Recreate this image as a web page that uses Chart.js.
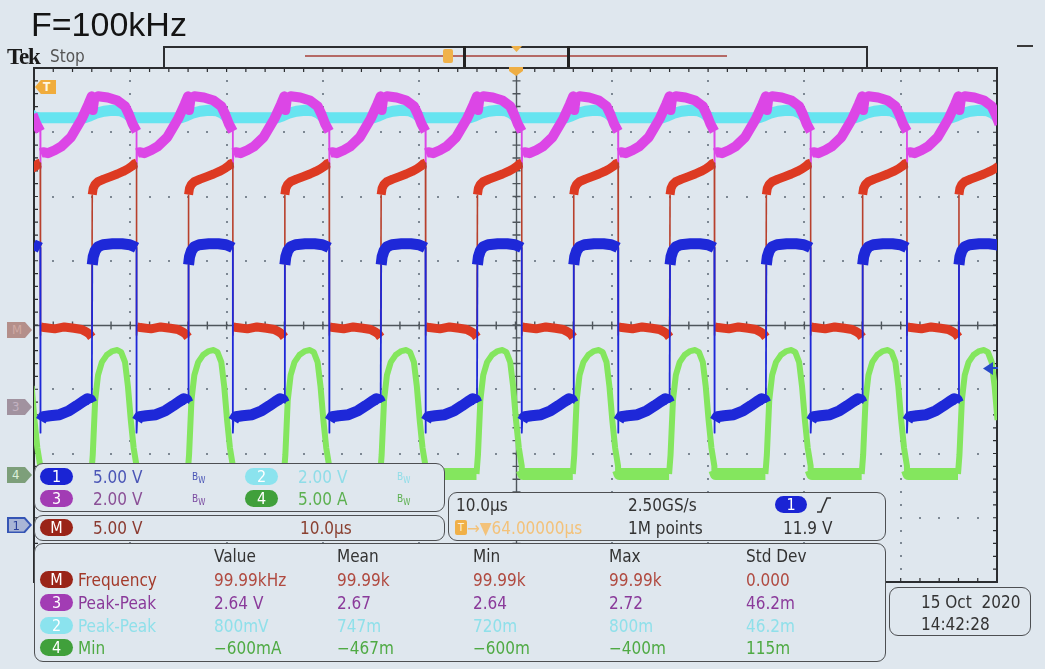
<!DOCTYPE html>
<html><head><meta charset="utf-8">
<script src="https://cdn.jsdelivr.net/npm/chart.js@4.4.1/dist/chart.umd.min.js"></script>
<style>
html,body{margin:0;padding:0;background:#dfe7ee;}
#wrap{position:relative;width:1045px;height:669px;overflow:hidden;background:#dfe7ee;font-family:"DejaVu Sans Condensed","DejaVu Sans",sans-serif;font-stretch:condensed;color:#333;}
#c{position:absolute;left:0;top:0;}
.a{position:absolute;white-space:nowrap;}
.t{position:absolute;white-space:nowrap;font-size:17px;line-height:20px;height:20px;}
.box{position:absolute;border:1.6px solid #4d4f52;border-radius:9px;background:#dfe7ee;box-sizing:border-box;}
.pill{position:absolute;width:33px;height:17px;border-radius:9px;color:#fff;font-size:16px;line-height:17px;text-align:center;}
.bw{position:absolute;font-size:10px;line-height:10px;}
.bw sub{font-size:8px;vertical-align:-3px;}
.mk{position:absolute;width:25px;height:16px;clip-path:polygon(0 0,72% 0,100% 50%,72% 100%,0 100%);font-size:13px;line-height:16px;text-indent:5px;}
</style></head>
<body>
<div id="wrap">
<canvas id="c" width="1045" height="669"></canvas>

<div class="a" style="left:31px;top:0px;font-family:'Liberation Sans',sans-serif;font-size:34px;line-height:48px;color:#141414;font-stretch:normal;">F=100kHz</div>
<div class="a" style="left:7px;top:45px;font-family:'Liberation Serif',serif;font-weight:bold;font-size:23px;line-height:24px;color:#1a1a1a;font-stretch:normal;letter-spacing:-1.2px;">Tek</div>
<div class="a" style="left:50px;top:46px;font-size:17px;line-height:20px;color:#555;">Stop</div>

<!-- record view bar -->
<div class="a" style="left:163px;top:46px;width:705px;height:21px;border:2px solid #2c2e31;border-bottom:none;box-sizing:border-box;"></div>
<div class="a" style="left:305px;top:55px;width:422px;height:2px;background:#b56a66;"></div>
<div class="a" style="left:463px;top:46px;width:107px;height:21px;border-left:3px solid #222;border-right:3px solid #222;box-sizing:border-box;"></div>
<div class="a" style="left:443px;top:49px;width:10px;height:14px;background:#f0b24a;border-radius:2px;"></div>
<div class="a" style="left:511px;top:46px;width:11px;height:6px;background:#eeb048;clip-path:polygon(0 0,100% 0,50% 100%);"></div>
<div class="a" style="left:509px;top:67px;width:14px;height:9px;background:#eeae44;clip-path:polygon(0 0,100% 0,100% 45%,50% 100%,0 45%);"></div>
<div class="a" style="left:1017px;top:45px;width:16px;height:2px;background:#3a3a3a;"></div>

<!-- T marker in plot -->
<div class="a" style="left:35px;top:80px;width:21px;height:14px;background:#f0ac3c;clip-path:polygon(0 50%,28% 0,100% 0,100% 100%,28% 100%);color:#fff6e0;font-size:12px;line-height:14px;text-indent:8px;font-weight:bold;">T</div>

<!-- left channel markers -->
<div class="mk" style="left:7px;top:322px;background:#b48f8a;color:#cfaaa4;">M</div>
<div class="mk" style="left:7px;top:399px;background:#a1929f;color:#c3b2c1;">3</div>
<div class="mk" style="left:7px;top:467px;background:#7d9f7a;color:#dcefd9;">4</div>
<div class="mk" style="left:7px;top:517px;background:#3555b5;"></div>
<div class="mk" style="left:8.5px;top:518.5px;width:21px;height:13px;background:#a9b5d6;color:#2a3f9a;line-height:13px;text-indent:4px;">1</div>

<!-- trigger level arrow right -->
<div class="a" style="left:983px;top:362px;width:10px;height:13px;background:#2748c8;clip-path:polygon(0 50%,100% 0,100% 100%);"></div>
<div class="a" style="left:990px;top:367px;width:8px;height:2px;background:#2748c8;"></div>

<!-- channel box -->
<div class="box" style="left:34px;top:463px;width:411px;height:49px;"></div>
<div class="pill" style="left:40px;top:468px;background:#1a24d4;">1</div>
<div class="t" style="left:93px;top:467px;color:#4a55b6;">5.00 V</div>
<div class="bw" style="left:192px;top:472px;color:#4a55b6;">B<sub>W</sub></div>
<div class="pill" style="left:245px;top:468px;background:#8be3ee;">2</div>
<div class="t" style="left:298px;top:467px;color:#8fdde8;">2.00 V</div>
<div class="bw" style="left:397px;top:472px;color:#8fdde8;">B<sub>W</sub></div>
<div class="pill" style="left:40px;top:490px;background:#a23cb4;">3</div>
<div class="t" style="left:93px;top:489px;color:#8a4f96;">2.00 V</div>
<div class="bw" style="left:192px;top:494px;color:#7a4aa0;">B<sub>W</sub></div>
<div class="pill" style="left:245px;top:490px;background:#40a03b;">4</div>
<div class="t" style="left:298px;top:489px;color:#5cb050;">5.00 A</div>
<div class="bw" style="left:397px;top:494px;color:#5cb050;">B<sub>W</sub></div>

<!-- math box -->
<div class="box" style="left:34px;top:515px;width:411px;height:26px;"></div>
<div class="pill" style="left:40px;top:519px;background:#9a2418;">M</div>
<div class="t" style="left:93px;top:518px;color:#8a3a30;">5.00 V</div>
<div class="t" style="left:300px;top:518px;color:#8a4030;">10.0µs</div>

<!-- timebase box -->
<div class="box" style="left:448px;top:492px;width:438px;height:49px;"></div>
<div class="t" style="left:456px;top:495px;color:#333;">10.0µs</div>
<div class="t" style="left:628px;top:495px;color:#333;">2.50GS/s</div>
<div class="pill" style="left:775px;top:496px;width:32px;background:#1a24d4;">1</div>
<svg class="a" style="left:816px;top:496px;" width="16" height="18"><polyline points="1,16 5,16 11,2 15,2" fill="none" stroke="#333" stroke-width="1.6"/></svg>
<div class="a" style="left:455px;top:520px;width:12px;height:15px;background:#f0b048;border-radius:2px;color:#fff3d8;font-size:11px;line-height:15px;text-align:center;">T</div>
<div class="t" style="left:467px;top:518px;color:#f3c27a;">→▼64.00000µs</div>
<div class="t" style="left:628px;top:518px;color:#333;">1M points</div>
<div class="t" style="left:783px;top:518px;color:#333;">11.9 V</div>

<!-- measurement box -->
<div class="box" style="left:34px;top:543px;width:852px;height:119px;"></div>
<div class="t" style="left:214px;top:546px;">Value</div>
<div class="t" style="left:337px;top:546px;">Mean</div>
<div class="t" style="left:473px;top:546px;">Min</div>
<div class="t" style="left:609px;top:546px;">Max</div>
<div class="t" style="left:746px;top:546px;">Std Dev</div>

<div class="pill" style="left:40px;top:571px;background:#9a2418;">M</div>
<div class="t" style="left:78px;top:570px;color:#a33a2a;">Frequency</div>
<div class="t" style="left:214px;top:570px;color:#b04a40;">99.99kHz</div>
<div class="t" style="left:337px;top:570px;color:#b04a40;">99.99k</div>
<div class="t" style="left:473px;top:570px;color:#b04a40;">99.99k</div>
<div class="t" style="left:609px;top:570px;color:#b04a40;">99.99k</div>
<div class="t" style="left:746px;top:570px;color:#b04a40;">0.000</div>

<div class="pill" style="left:40px;top:594px;background:#a23cb4;">3</div>
<div class="t" style="left:78px;top:593px;color:#8a3a9a;">Peak-Peak</div>
<div class="t" style="left:214px;top:593px;color:#8a3a9a;">2.64 V</div>
<div class="t" style="left:337px;top:593px;color:#8a3a9a;">2.67</div>
<div class="t" style="left:473px;top:593px;color:#8a3a9a;">2.64</div>
<div class="t" style="left:609px;top:593px;color:#8a3a9a;">2.72</div>
<div class="t" style="left:746px;top:593px;color:#8a3a9a;">46.2m</div>

<div class="pill" style="left:40px;top:617px;background:#8be3ee;">2</div>
<div class="t" style="left:78px;top:616px;color:#8fe0ea;">Peak-Peak</div>
<div class="t" style="left:214px;top:616px;color:#8fe0ea;">800mV</div>
<div class="t" style="left:337px;top:616px;color:#8fe0ea;">747m</div>
<div class="t" style="left:473px;top:616px;color:#8fe0ea;">720m</div>
<div class="t" style="left:609px;top:616px;color:#8fe0ea;">800m</div>
<div class="t" style="left:746px;top:616px;color:#8fe0ea;">46.2m</div>

<div class="pill" style="left:40px;top:639px;background:#40a03b;">4</div>
<div class="t" style="left:78px;top:638px;color:#4faa44;">Min</div>
<div class="t" style="left:214px;top:638px;color:#4faa44;">−600mA</div>
<div class="t" style="left:337px;top:638px;color:#4faa44;">−467m</div>
<div class="t" style="left:473px;top:638px;color:#4faa44;">−600m</div>
<div class="t" style="left:609px;top:638px;color:#4faa44;">−400m</div>
<div class="t" style="left:746px;top:638px;color:#4faa44;">115m</div>

<!-- date box -->
<div class="box" style="left:889px;top:587px;width:142px;height:49px;"></div>
<div class="t" style="left:921px;top:592px;">15 Oct&nbsp; 2020</div>
<div class="t" style="left:921px;top:614px;">14:42:28</div>
</div>

<script>
// ---- acquisition settings ----
const periodUs = 10;          // 100 kHz
const firstFallUs = 0.65;     // first falling edge after screen start
const timeMinUs = 0, timeMaxUs = 100;   // 10.0 µs/div x 10 div
const divTicks = [-4, -3, -2, -1, 0, 1, 2, 3, 4];
const timeTicks = [0, 10, 20, 30, 40, 50, 60, 70, 80, 90, 100];

// channel vertical settings: volts(amps)/div and ground marker position (div from centre)
const voltsPerDiv = { M: 5, ch1: 5, ch2: 2, ch3: 2, ch4: 5 };
const groundDiv   = { M: -0.05, ch1: -3.03, ch2: 3.0, ch3: -1.28, ch4: -2.32 };

// ---- one switching period, tau = µs after falling edge ----
const mathTau = [0, 0.05, 0.4, 1.5, 2.5, 3.5, 4.3, 4.8, 5.1, 5.35, 5.4, 5.5, 5.7, 6.0, 6.6, 7.3, 8.0, 8.6, 9.1, 9.5, 9.8, 10];
const mathV   = [-0.55, 0.1, 0.05, -0.05, 0.1, 0.0, -0.1, -0.3, -0.45, -0.7, 10.4, 10.9, 11.2, 11.4, 11.6, 11.8, 12.0, 12.2, 12.4, 12.6, 12.8, 12.85];

const ch1Tau = [0, 0.05, 0.3, 1.0, 2.0, 3.0, 3.8, 4.4, 4.9, 5.2, 5.35, 5.4, 5.5, 5.7, 6.0, 6.5, 7.5, 8.5, 9.3, 9.8, 10];
const ch1V   = [6.77, 7.70, 8.01, 8.09, 8.17, 8.48, 8.87, 9.18, 9.41, 9.34, 9.10, 19.84, 20.46, 20.93, 21.24, 21.40, 21.47, 21.47, 21.40, 21.24, 21.16];

const ch3Tau = [0, 0.05, 0.3, 0.8, 1.5, 2.2, 3.2, 4.3, 5.0, 5.35, 5.45, 5.6, 6.0, 7.0, 8.0, 8.8, 9.2, 9.6, 10];
const ch3V   = [7.44, 7.91, 7.94, 7.91, 8.00, 8.12, 8.41, 8.97, 9.43, 9.68, 9.25, 9.61, 9.68, 9.64, 9.55, 9.37, 9.12, 8.81, 8.59];

const ch2Tau = [0, 4.6, 5.2, 5.8, 6.6, 7.5, 8.3, 8.9, 9.4, 10];
const ch2V   = [0.451, 0.451, 0.514, 0.591, 0.654, 0.685, 0.669, 0.591, 0.467, 0.451];

const ch4Tau = [0, 0.15, 2.5, 5.3, 5.45, 5.7, 6.0, 6.4, 6.9, 7.5, 8.0, 8.4, 8.8, 9.1, 9.4, 9.7, 10];
const ch4A   = [0.31, 0, 0, 0, 1.48, 5.76, 7.70, 8.71, 9.26, 9.57, 9.65, 9.49, 8.71, 6.85, 4.20, 2.02, 0.62];

// ---- build the acquired record by repeating the period over the screen ----
function tile(tau, vals) {
  const pts = [];
  for (let k = -1; k <= 10; k++) {
    const t0 = firstFallUs + k * periodUs;
    for (let i = 0; i < tau.length; i++) pts.push({ x: +(t0 + tau[i]).toFixed(4), y: vals[i] });
  }
  return pts;
}
function axisFor(ch) {
  const s = voltsPerDiv[ch], o = groundDiv[ch];
  return { type: 'linear', axis: 'y', display: false, min: (-4 - o) * s, max: (4 - o) * s };
}
const edge = (thick, thin) => c => Math.abs(c.p1.x - c.p0.x) < 0.6 ? thin : thick;

const scopeGrid = {
  id: 'scopeGrid',
  beforeDatasetsDraw(chart) {
    const { ctx, chartArea: a } = chart;
    const xs = chart.scales.x, ys = chart.scales.y;
    const xMinor = [], yMinor = [];
    for (let j = 0; j <= 50; j++) xMinor.push(xs.getPixelForValue(timeMinUs + j * 2));
    for (let j = 0; j <= 40; j++) yMinor.push(ys.getPixelForValue(-4 + j * 0.2));
    ctx.save();
    ctx.fillStyle = '#7d8893';
    timeTicks.slice(1, -1).forEach(v => {
      if (v === 50) return;
      const px = Math.round(xs.getPixelForValue(v));
      yMinor.forEach(py => ctx.fillRect(px - 1, Math.round(py) - 1, 2, 2));
    });
    divTicks.slice(1, -1).forEach(v => {
      if (v === 0) return;
      const py = Math.round(ys.getPixelForValue(v));
      xMinor.forEach(px => ctx.fillRect(Math.round(px) - 1, py - 1, 2, 2));
    });
    // centre cross with ticks
    const cx = Math.round(xs.getPixelForValue(50)) + 0.5, cy = Math.round(ys.getPixelForValue(0)) + 0.5;
    ctx.strokeStyle = '#4e555b'; ctx.lineWidth = 1.4;
    ctx.beginPath();
    ctx.moveTo(cx, a.top); ctx.lineTo(cx, a.bottom);
    ctx.moveTo(a.left, cy); ctx.lineTo(a.right, cy);
    yMinor.forEach(py => { ctx.moveTo(cx - 4, py); ctx.lineTo(cx + 4, py); });
    xMinor.forEach(px => { ctx.moveTo(px, cy - 4); ctx.lineTo(px, cy + 4); });
    ctx.stroke();
    // border with inward ticks
    ctx.strokeStyle = '#2b2d30'; ctx.lineWidth = 2;
    ctx.strokeRect(a.left, a.top, a.right - a.left, a.bottom - a.top);
    ctx.lineWidth = 1.2;
    ctx.beginPath();
    xMinor.forEach(px => { ctx.moveTo(px, a.top); ctx.lineTo(px, a.top + 4); ctx.moveTo(px, a.bottom); ctx.lineTo(px, a.bottom - 4); });
    yMinor.forEach(py => { ctx.moveTo(a.left, py); ctx.lineTo(a.left + 4, py); ctx.moveTo(a.right, py); ctx.lineTo(a.right - 4, py); });
    ctx.stroke();
    ctx.restore();
  }
};

new Chart(document.getElementById('c'), {
  type: 'line',
  data: {
    datasets: [
      { label: 'Ch1', data: tile(ch1Tau, ch1V), yAxisID: 'y1', borderColor: '#1e28d8', borderWidth: 11,
        segment: { borderWidth: edge(11, 1.8) } },
      { label: 'Math', data: tile(mathTau, mathV), yAxisID: 'yM', borderColor: '#dd3a22', borderWidth: 9,
        segment: { borderWidth: edge(9, 1.6), borderColor: c => Math.abs(c.p1.x - c.p0.x) < 0.6 ? '#b8402c' : '#dd3a22' } },
      { label: 'Ch4', data: tile(ch4Tau, ch4A), yAxisID: 'y4', borderColor: '#84e65e', borderWidth: 6,
        segment: { borderWidth: c => (c.p0.parsed.y < 0.4 && c.p1.parsed.y < 0.4) ? 12 : 6 } },
      { label: 'Ch3', data: tile(ch3Tau, ch3V), yAxisID: 'y3', borderColor: '#dc46e6', borderWidth: 10,
        segment: { borderWidth: edge(10, 1.8) } },
      { label: 'Ch2', data: tile(ch2Tau, ch2V), yAxisID: 'y2', borderColor: '#66e4f0', borderWidth: 11 }
    ].map(d => Object.assign(d, { xAxisID: 'x', clip: 0, pointRadius: 0, tension: 0, fill: false,
                                  borderCapStyle: 'butt', borderJoinStyle: 'round' }))
  },
  options: {
    responsive: false, animation: false, devicePixelRatio: 1,
    layout: { padding: { left: 34, right: 48, top: 68, bottom: 87 } },
    plugins: { legend: { display: false }, tooltip: { enabled: false } },
    scales: {
      x: { type: 'linear', display: false, min: timeMinUs, max: timeMaxUs },
      y: { type: 'linear', display: false, min: divTicks[0], max: divTicks[divTicks.length - 1] },
      yM: axisFor('M'), y1: axisFor('ch1'), y2: axisFor('ch2'), y3: axisFor('ch3'), y4: axisFor('ch4')
    }
  },
  plugins: [scopeGrid]
});
</script>
</body></html>
